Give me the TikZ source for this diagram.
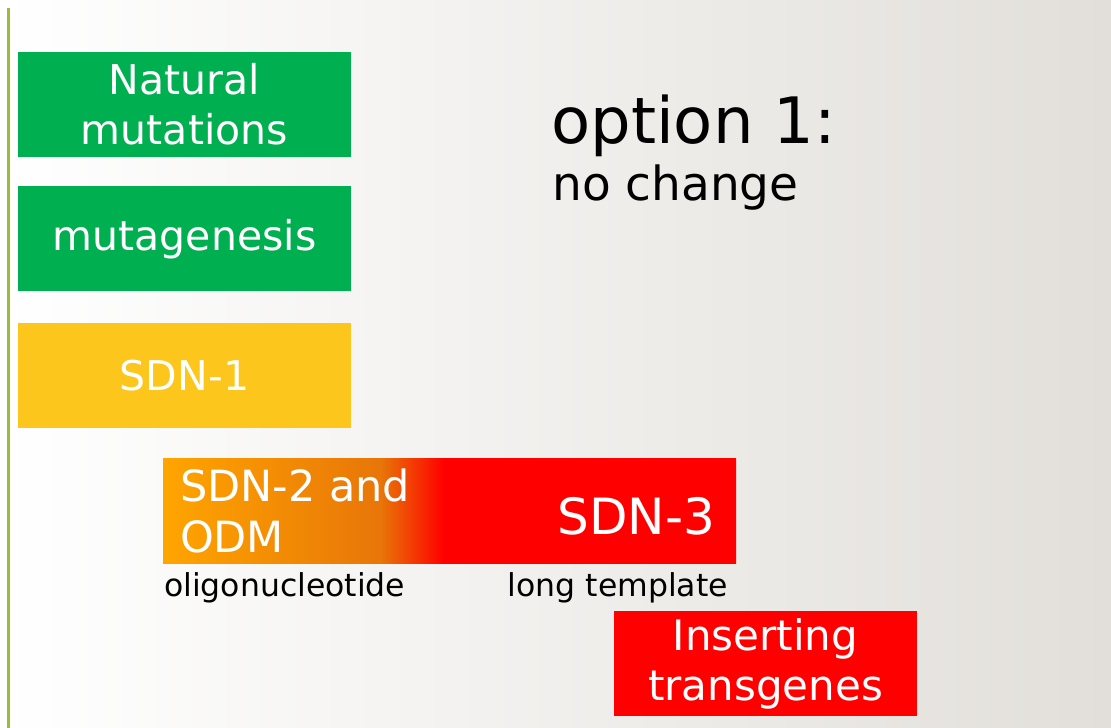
\documentclass[tikz,border=0pt]{standalone}
\usepackage{xcolor}
\usepackage{fontspec}
\setmainfont{DejaVu Sans}
\usetikzlibrary{positioning}
\definecolor{boxgreen}{RGB}{0,175,80}
\definecolor{boxyellow}{RGB}{252,198,28}
\definecolor{boxorange}{RGB}{255,165,0}
\definecolor{darkorange}{RGB}{232,118,8}
\definecolor{boxred}{RGB}{255,0,0}
\definecolor{barolive}{RGB}{157,187,59}
\definecolor{bgmid}{RGB}{244,244,241}
\definecolor{bgright}{RGB}{226,223,218}
\pgfdeclarehorizontalshading{sdnshade}{100bp}{color(0bp)=(boxorange); color(25bp)=(boxorange); color(44bp)=(darkorange); color(49.5bp)=(boxred); color(100bp)=(boxred)}

\begin{document}
\begin{tikzpicture}[x=1pt,y=-1pt,node distance=30pt,
	box/.style={inner sep=0pt,minimum width=333pt,minimum height=105pt,text=white,align=center,font=\fontsize{41}{50}\selectfont},
	small/.style={inner sep=0pt,font=\fontsize{31.5}{38}\selectfont}]
	\shade[left color=white,middle color=bgmid,right color=bgright] (0,0) rectangle (1111,728);
	\useasboundingbox (0,0) rectangle (1111,728);
	\draw[barolive,line width=3.5pt] (8.5,8) -- (8.5,728);

	\node[box,fill=boxgreen] (nat) at (184.5,104.5) {Natural\\mutations};
	\node[box,fill=boxgreen] (mut) [below=29pt of nat] {mutagenesis};
	\node[box,fill=boxyellow] (sdn1) [below=31pt of mut] {SDN-1};
	\node[box,shading=sdnshade,minimum width=573pt] (sdn23) at (449.5,511) {};
	\node[box,fill=boxred,minimum width=303pt,font=\fontsize{42}{50}\selectfont] (ins) at (765.5,663.5) {Inserting\\transgenes};

	\node[text=white,align=left,anchor=west,inner sep=0pt,font=\fontsize{43}{51}\selectfont] (sdn2) at ([xshift=17pt]sdn23.west) {SDN-2 and\\ODM};
	\node[text=white,anchor=east,inner sep=0pt,font=\fontsize{50}{58}\selectfont] (sdn3) at ([xshift=-21pt,yshift=-5pt]sdn23.east) {SDN-3};
	\node[small,anchor=north west] (oligo) at ([xshift=1pt,yshift=-9pt]sdn23.south west) {oligonucleotide};
	\node[small,anchor=north east] (longt) at ([xshift=-8pt,yshift=-9pt]sdn23.south east) {long template};

	\node[anchor=base west,inner sep=0pt,font=\fontsize{64}{70}\selectfont] (opt) at (551,143) {option 1:};
	\node[anchor=base west,inner sep=0pt,font=\fontsize{47}{52}\selectfont] (nochg) at (552,200) {no change};
\end{tikzpicture}
\end{document}
